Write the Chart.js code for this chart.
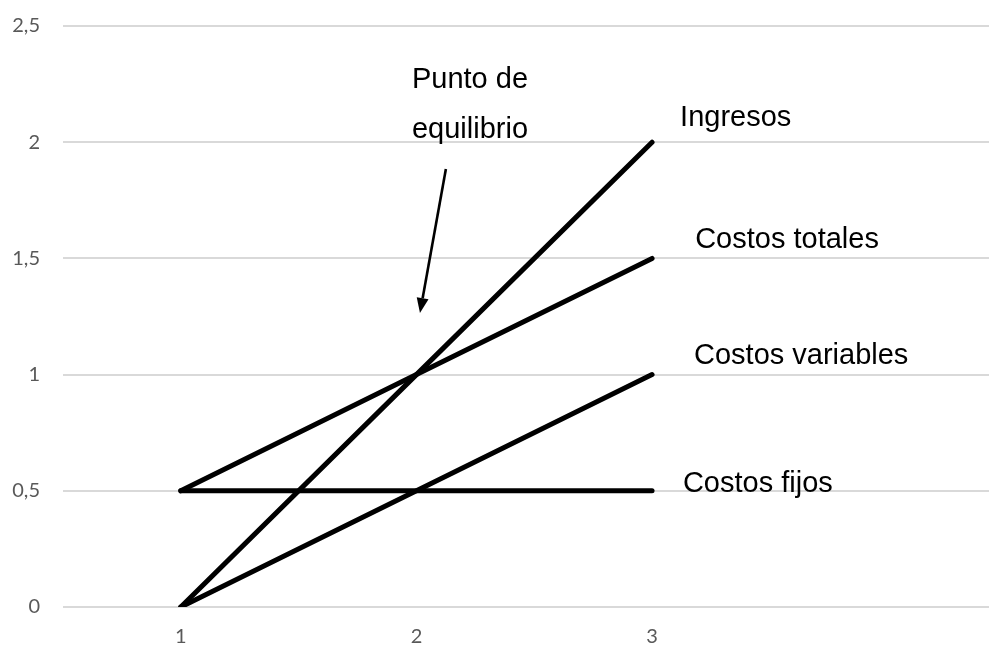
<!DOCTYPE html>
<html>
<head>
<meta charset="utf-8">
<script src="https://cdn.jsdelivr.net/npm/chart.js@4"></script>
<style>
  html, body { margin: 0; padding: 0; background: #fff; }
  #wrap { width: 989px; height: 646px; }
</style>
</head>
<body>
<div id="wrap"><canvas id="c" width="989" height="646"></canvas></div>
<script>
// Break-even diagram: revenue vs. fixed, variable and total costs
const categories = [1, 2, 3];
const ingresos = [0, 1, 2];
const costosTotales = [0.5, 1, 1.5];
const costosVariables = [0, 0.5, 1];
const costosFijos = [0.5, 0.5, 0.5];
const yTicks = [0, 0.5, 1, 1.5, 2, 2.5];

const seriesLabels = ['Ingresos', 'Costos totales', 'Costos variables', 'Costos fijos'];
const seriesValues = [ingresos, costosTotales, costosVariables, costosFijos];

// Text callouts (left edge, baseline), anchored in data coordinates
const callouts = [
  { text: 'Punto de', x: 1.981, y: 2.233 },
  { text: 'equilibrio', x: 1.981, y: 2.018 },
  { text: 'Ingresos', x: 3.119, y: 2.07 },
  { text: 'Costos totales', x: 3.183, y: 1.545 },
  { text: 'Costos variables', x: 3.178, y: 1.046 },
  { text: 'Costos fijos', x: 3.131, y: 0.495 }
];
const arrow = { from: { x: 2.125, y: 1.885 }, to: { x: 2.015, y: 1.265 } };

const toPoints = vals => categories.map((c, i) => ({ x: c, y: vals[i] }));

const annotate = {
  id: 'annotate',
  afterDatasetsDraw(chart) {
    const { ctx, scales: { x, y } } = chart;
    ctx.save();
    ctx.fillStyle = '#000';
    ctx.font = '29px "Liberation Sans", Arial, sans-serif';
    ctx.textBaseline = 'alphabetic';
    ctx.textAlign = 'left';
    callouts.forEach(c => ctx.fillText(c.text, x.getPixelForValue(c.x), y.getPixelForValue(c.y)));

    const x1 = x.getPixelForValue(arrow.from.x), y1 = y.getPixelForValue(arrow.from.y);
    const x2 = x.getPixelForValue(arrow.to.x), y2 = y.getPixelForValue(arrow.to.y);
    const ang = Math.atan2(y2 - y1, x2 - x1);
    const head = 15, half = 6;
    const bx = x2 - head * Math.cos(ang), by = y2 - head * Math.sin(ang);
    ctx.strokeStyle = '#000';
    ctx.lineWidth = 2.6;
    ctx.beginPath();
    ctx.moveTo(x1, y1);
    ctx.lineTo(bx, by);
    ctx.stroke();
    ctx.beginPath();
    ctx.moveTo(x2, y2);
    ctx.lineTo(bx + half * Math.sin(ang), by - half * Math.cos(ang));
    ctx.lineTo(bx - half * Math.sin(ang), by + half * Math.cos(ang));
    ctx.closePath();
    ctx.fill();
    ctx.restore();
  }
};

const tickFont = { family: 'Lato, "Open Sans", sans-serif', size: 20 };

new Chart(document.getElementById('c'), {
  type: 'line',
  data: {
    datasets: seriesLabels.map((label, i) => ({
      label,
      data: toPoints(seriesValues[i]),
      borderColor: '#000',
      backgroundColor: '#000',
      borderWidth: 5,
      borderCapStyle: 'round',
      borderJoinStyle: 'round',
      pointRadius: 0,
      tension: 0,
      fill: false
    }))
  },
  options: {
    responsive: false,
    animation: false,
    layout: { padding: { top: 26, right: 0, left: 0, bottom: 0 } },
    plugins: { legend: { display: false }, tooltip: { enabled: false } },
    scales: {
      x: {
        type: 'linear',
        min: 0.5,
        max: 4.43,
        afterBuildTicks: s => { s.ticks = categories.map(v => ({ value: v })); },
        afterFit: s => { s.height = 39; s.paddingLeft = 0; s.paddingRight = 0; },
        grid: { display: false, drawTicks: false },
        border: { display: false },
        ticks: { color: '#595959', font: tickFont, padding: 18, autoSkip: false, maxRotation: 0,
                 callback: v => String(v) }
      },
      y: {
        min: 0,
        max: 2.5,
        afterBuildTicks: s => { s.ticks = yTicks.map(v => ({ value: v })); },
        afterFit: s => { s.width = 63; s.paddingTop = 0; s.paddingBottom = 0; },
        grid: { color: '#d9d9d9', lineWidth: 2, drawTicks: false },
        border: { display: false },
        ticks: { color: '#595959', font: tickFont, padding: 23,
                 callback: v => String(v).replace('.', ',') }
      }
    }
  },
  plugins: [annotate]
});
</script>
</body>
</html>
